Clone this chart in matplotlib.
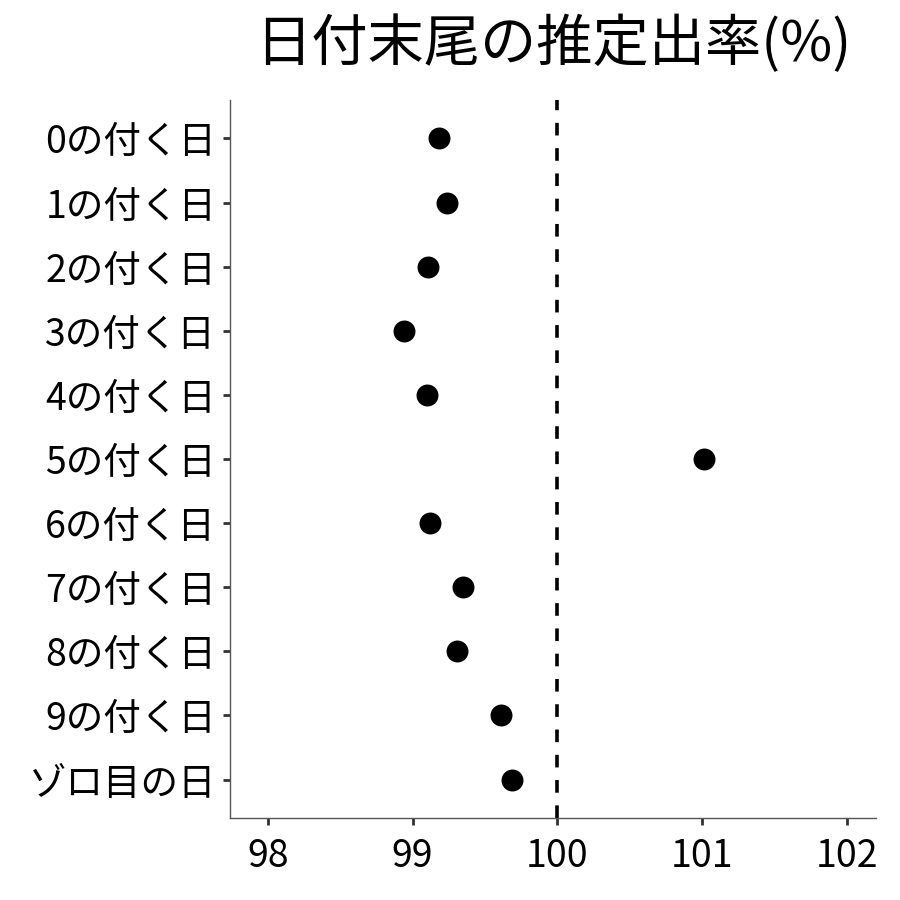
import matplotlib
matplotlib.use('Agg')
import matplotlib.pyplot as plt
import numpy as np

# 日本語フォント
plt.rcParams['font.family'] = ['Noto Sans CJK JP', 'DejaVu Sans']

# データ
categories = ['0の付く日', '1の付く日', '2の付く日', '3の付く日', '4の付く日',
              '5の付く日', '6の付く日', '7の付く日', '8の付く日', '9の付く日', 'ゾロ目の日']
rates = [99.18, 99.24, 99.11, 98.94, 99.10, 101.01, 99.12, 99.35, 99.31, 99.61, 99.69]
x_ticks = [98, 99, 100, 101, 102]
baseline = 100

fig = plt.figure(figsize=(9, 9), dpi=100)
ax = fig.add_axes([0.2556, 0.0911, 0.7177, 0.7978])

y_pos = np.arange(len(categories))
ax.scatter(rates, y_pos, s=15.8 ** 2, color='black', zorder=3, linewidths=0)
ax.axvline(baseline, color='black', linestyle=(0, (3.5, 3.5)), linewidth=2.6, zorder=2)

ax.set_xlim(97.74, 102.2)
ax.set_ylim(len(categories) - 0.4, -0.6)
ax.set_yticks(y_pos)
ax.set_yticklabels(categories)
ax.set_xticks(x_ticks)
ax.set_xticklabels([str(t) for t in x_ticks])

for s in ['top', 'right']:
    ax.spines[s].set_visible(False)
for s in ['left', 'bottom']:
    ax.spines[s].set_color('#555555')
    ax.spines[s].set_linewidth(1.0)

ax.tick_params(axis='both', length=5, width=2, color='#333333', labelsize=27, labelcolor='black')
ax.tick_params(axis='y', pad=5)
ax.tick_params(axis='x', pad=9)

ax.set_title('日付末尾の推定出率(%)', fontsize=40.5, pad=28)

fig.savefig('out.png', dpi=100, facecolor='white')
